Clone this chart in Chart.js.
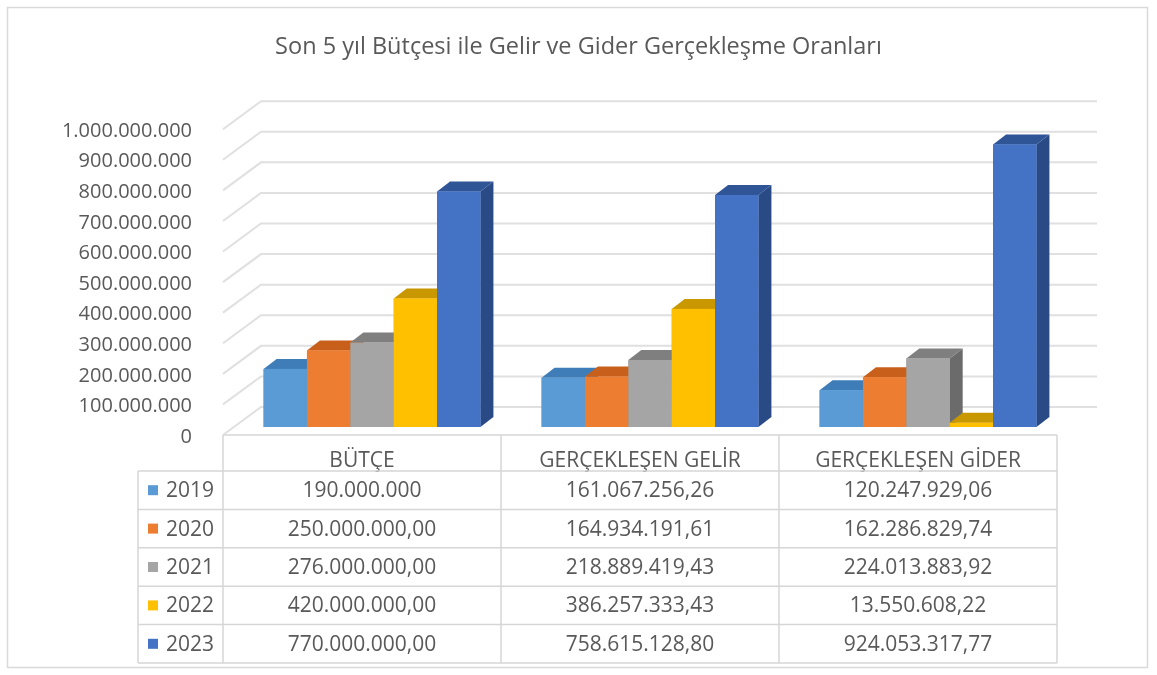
<!DOCTYPE html>
<html>
<head>
<meta charset="utf-8">
<script src="https://cdn.jsdelivr.net/npm/chart.js@4.4.1/dist/chart.umd.min.js"></script>
<style>
  html, body { margin: 0; padding: 0; background: #ffffff; }
  #c { position: absolute; left: 0; top: 0; }
</style>
</head>
<body>
<canvas id="c" width="1157" height="675"></canvas>
<script>
// ---- data ----
const titleText = 'Son 5 yıl Bütçesi ile Gelir ve Gider Gerçekleşme Oranları';
const categories = ['BÜTÇE', 'GERÇEKLEŞEN GELİR', 'GERÇEKLEŞEN GİDER'];
const years = ['2019', '2020', '2021', '2022', '2023'];
const values2019 = [190000000, 161067256.26, 120247929.06];
const values2020 = [250000000, 164934191.61, 162286829.74];
const values2021 = [276000000, 218889419.43, 224013883.92];
const values2022 = [420000000, 386257333.43, 13550608.22];
const values2023 = [770000000, 758615128.80, 924053317.77];
const seriesValues = [values2019, values2020, values2021, values2022, values2023];
// table cells shown without decimals in the source
const noDecimalCells = ['2019|BÜTÇE'];
const yMin = 0, yMax = 1000000000, yStep = 100000000;

// ---- style ----
const FONT = '"Open Sans", "Noto Sans", sans-serif';
const TEXT = '#595959';
const frontColors = ['#5B9BD5', '#ED7D31', '#A5A5A5', '#FFC000', '#4472C4'];
const topColors   = ['#3F7DB8', '#C8601C', '#7F7F7F', '#C99700', '#2F5597'];
const sideColors  = ['#2E6096', '#A94F14', '#6B6B6B', '#A87E00', '#2A4A86'];
const GRID = '#e0e0e0';
const TABLE_LINE = '#d6d6d6';

function fmtTR(v, d) {
  const s = v.toFixed(d);
  const parts = s.split('.');
  const i = parts[0].replace(/\B(?=(\d{3})+(?!\d))/g, '.');
  return parts[1] ? i + ',' + parts[1] : i;
}

// 3D geometry (pixels)
const BAR_DX = 13, BAR_DY = 10;      // bar depth
const FLOOR_FRONT_DX = 10, FLOOR_FRONT_DY = 8;  // floor front edge relative to bar front plane
const WALL_DX = 28, WALL_DY = 20;    // back wall relative to bar front plane
const WALL_RIGHT_EXTRA = 30;
const ROW_TOP = 471, ROW_H = 38.4, TABLE_LEFT = 138;

const bg = {
  id: 'bg',
  beforeDraw(chart) {
    const ctx = chart.ctx;
    ctx.save();
    ctx.fillStyle = '#ffffff';
    ctx.fillRect(0, 0, chart.width, chart.height);
    ctx.strokeStyle = '#d9d9d9';
    ctx.lineWidth = 1.5;
    ctx.strokeRect(7.5, 7.5, 1140, 660);
    ctx.restore();
  }
};

const depth3d = {
  id: 'depth3d',
  beforeDatasetsDraw(chart) {
    const ctx = chart.ctx, ys = chart.scales.y, area = chart.chartArea;
    const frontL = area.left - FLOOR_FRONT_DX;
    const backL = area.left + WALL_DX;
    const backR = area.right + WALL_RIGHT_EXTRA;
    ctx.save();
    ctx.strokeStyle = GRID;
    ctx.lineWidth = 2;
    ys.ticks.forEach(t => {
      const yb = ys.getPixelForValue(t.value);
      ctx.beginPath();
      ctx.moveTo(frontL, yb + FLOOR_FRONT_DY);
      ctx.lineTo(backL, yb - WALL_DY);
      ctx.lineTo(backR, yb - WALL_DY);
      ctx.stroke();
    });
    ctx.restore();
  },
  afterDatasetsDraw(chart) {
    const ctx = chart.ctx;
    ctx.save();
    const poly = (pts, col) => {
      ctx.beginPath();
      ctx.moveTo(pts[0][0], pts[0][1]);
      for (let k = 1; k < pts.length; k++) ctx.lineTo(pts[k][0], pts[k][1]);
      ctx.closePath();
      ctx.fillStyle = col;
      ctx.fill();
    };
    for (let c = 0; c < chart.data.labels.length; c++) {
      chart.data.datasets.forEach((ds, i) => {
        const el = chart.getDatasetMeta(i).data[c];
        const p = el.getProps(['x', 'y', 'base', 'width'], true);
        const l = p.x - p.width / 2, r = p.x + p.width / 2;
        const top = Math.min(p.y, p.base), bot = Math.max(p.y, p.base);
        poly([[r, top], [r + BAR_DX, top - BAR_DY], [r + BAR_DX, bot - BAR_DY], [r, bot]], sideColors[i]);
        poly([[l, top], [l + BAR_DX, top - BAR_DY], [r + BAR_DX, top - BAR_DY], [r, top]], topColors[i]);
        ctx.fillStyle = frontColors[i];
        ctx.fillRect(l, top, p.width, bot - top);
      });
    }
    ctx.restore();
  }
};

const dataTable = {
  id: 'dataTable',
  afterDraw(chart) {
    const ctx = chart.ctx, area = chart.chartArea, ys = chart.scales.y;
    const colL = area.left - FLOOR_FRONT_DX;
    const colW = (area.right - area.left) / categories.length;
    const colR = colL + colW * categories.length;
    const floorY = ys.getPixelForValue(0) + FLOOR_FRONT_DY;
    const tableBottom = ROW_TOP + ROW_H * years.length;
    ctx.save();
    ctx.strokeStyle = TABLE_LINE;
    ctx.lineWidth = 1.5;
    ctx.beginPath();
    ctx.moveTo(colL, floorY); ctx.lineTo(colR, floorY);
    for (let k = 0; k <= years.length; k++) {
      const y = ROW_TOP + ROW_H * k;
      ctx.moveTo(TABLE_LEFT, y); ctx.lineTo(colR, y);
    }
    for (let k = 0; k <= categories.length; k++) {
      const x = colL + colW * k;
      ctx.moveTo(x, floorY); ctx.lineTo(x, tableBottom);
    }
    ctx.moveTo(TABLE_LEFT, ROW_TOP); ctx.lineTo(TABLE_LEFT, tableBottom);
    ctx.stroke();

    ctx.font = '21px ' + FONT;
    ctx.textBaseline = 'middle';
    years.forEach((yr, r) => {
      const cy = ROW_TOP + ROW_H * (r + 0.5);
      ctx.fillStyle = frontColors[r];
      ctx.fillRect(148, cy - 5, 10, 10);
      ctx.fillStyle = TEXT;
      ctx.textAlign = 'left';
      ctx.fillText(yr, 166, cy + 1);
      ctx.textAlign = 'center';
      categories.forEach((cat, c) => {
        const v = seriesValues[r][c];
        const dec = noDecimalCells.includes(yr + '|' + cat) ? 0 : 2;
        ctx.fillText(fmtTR(v, dec), colL + colW * (c + 0.5), cy + 1);
      });
    });
    ctx.restore();
  }
};

new Chart(document.getElementById('c'), {
  type: 'bar',
  data: {
    labels: categories,
    datasets: years.map((yr, i) => ({
      label: yr,
      data: seriesValues[i],
      backgroundColor: frontColors[i],
      borderWidth: 0,
      barPercentage: 1.0,
      categoryPercentage: 0.78
    }))
  },
  options: {
    responsive: false,
    devicePixelRatio: 1,
    animation: false,
    layout: { padding: { left: 0, right: 0, top: 0, bottom: 0 } },
    plugins: {
      legend: { display: false },
      tooltip: { enabled: false },
      title: {
        display: true,
        text: titleText,
        color: TEXT,
        font: { family: FONT, size: 23.5, weight: 'normal' },
        padding: { top: 33, bottom: 60 }
      }
    },
    scales: {
      x: {
        grid: { display: false },
        border: { display: false },
        ticks: {
          color: TEXT,
          font: { family: FONT, size: 21 },
          padding: 13,
          labelOffset: -FLOOR_FRONT_DX,
          maxRotation: 0,
          autoSkip: false
        },
        afterFit(s) { s.height = 248; }
      },
      y: {
        min: yMin,
        max: yMax,
        grid: { display: false },
        border: { display: false },
        ticks: {
          stepSize: yStep,
          color: TEXT,
          font: { family: FONT, size: 20 },
          padding: 33,
          labelOffset: 10,
          callback: v => fmtTR(v, 0)
        },
        afterFit(s) { s.width = 233; }
      },
      yRightSpace: {
        position: 'right',
        display: true,
        grid: { display: false },
        border: { display: false },
        ticks: { display: false },
        afterFit(s) { s.width = 90; }
      }
    }
  },
  plugins: [bg, depth3d, dataTable]
});
</script>
</body>
</html>
